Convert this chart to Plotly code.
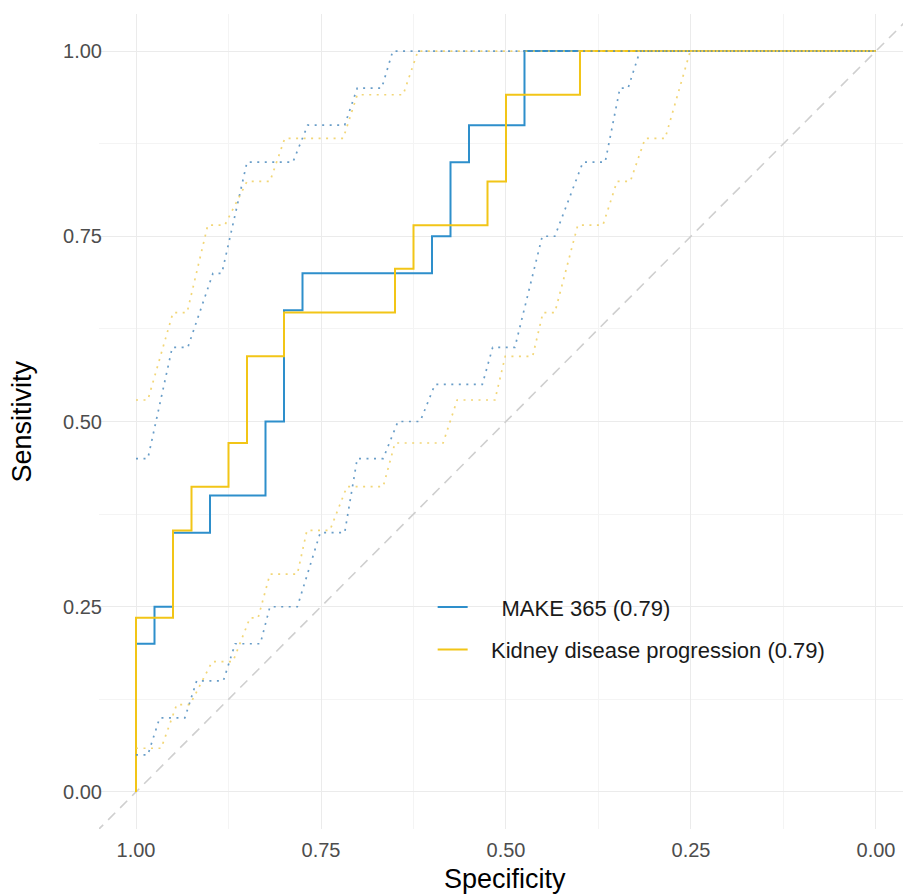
import plotly.graph_objects as go

# ---------------- data ----------------
# Main ROC curves (step vertices: specificity, sensitivity)
make_spec = [1.0, 1.0, 0.975, 0.95, 0.9, 0.825, 0.8, 0.775, 0.6, 0.575, 0.55, 0.475, 0.0]
make_sens = [0.0, 0.2, 0.25, 0.35, 0.4, 0.5, 0.65, 0.7, 0.75, 0.85, 0.9, 1.0, 1.0]

kid_spec = [1.0, 1.0, 0.95, 0.925, 0.875, 0.85, 0.8, 0.65, 0.625, 0.525, 0.5, 0.4, 0.0]
kid_sens = [0.0, 0.235, 0.353, 0.412, 0.471, 0.588, 0.647, 0.706, 0.765, 0.824, 0.941, 1.0, 1.0]

# Confidence bands (dotted)
make_hi_spec = [1.0, 0.984, 0.951, 0.930, 0.896, 0.884, 0.850, 0.788, 0.768, 0.718, 0.701, 0.668, 0.653, 0.0]
make_hi_sens = [0.45, 0.45, 0.60, 0.60, 0.70, 0.70, 0.85, 0.85, 0.90, 0.90, 0.95, 0.95, 1.0, 1.0]

make_lo_spec = [1.0, 0.984, 0.968, 0.934, 0.918, 0.882, 0.866, 0.832, 0.819, 0.782, 0.751, 0.718,
                0.701, 0.666, 0.646, 0.616, 0.596, 0.532, 0.518, 0.488, 0.451, 0.434, 0.396, 0.366,
                0.346, 0.335, 0.319, 0.0]
make_lo_sens = [0.05, 0.05, 0.10, 0.10, 0.15, 0.15, 0.20, 0.20, 0.25, 0.25, 0.35, 0.35,
                0.45, 0.45, 0.50, 0.50, 0.55, 0.55, 0.60, 0.60, 0.75, 0.75, 0.85, 0.85,
                0.95, 0.95, 1.0, 1.0]

kid_hi_spec = [1.0, 0.984, 0.950, 0.931, 0.903, 0.880, 0.850, 0.819, 0.799, 0.720, 0.701, 0.639, 0.619, 0.0]
kid_hi_sens = [0.529, 0.529, 0.647, 0.647, 0.765, 0.765, 0.824, 0.824, 0.882, 0.882, 0.941, 0.941, 1.0, 1.0]

kid_lo_spec = [1.0, 0.966, 0.945, 0.927, 0.897, 0.869, 0.846, 0.835, 0.819, 0.782, 0.769, 0.738,
               0.715, 0.666, 0.650, 0.585, 0.566, 0.515, 0.501, 0.464, 0.450, 0.434, 0.403, 0.369,
               0.350, 0.332, 0.312, 0.285, 0.251, 0.0]
kid_lo_sens = [0.059, 0.059, 0.118, 0.118, 0.176, 0.176, 0.235, 0.235, 0.294, 0.294, 0.353, 0.353,
               0.412, 0.412, 0.471, 0.471, 0.529, 0.529, 0.588, 0.588, 0.647, 0.647, 0.765, 0.765,
               0.824, 0.824, 0.882, 0.882, 1.0, 1.0]

# chance line (sensitivity = 1 - specificity)
diag_spec = [1.2, -0.2]
diag_sens = [1 - s for s in diag_spec]

tick_vals = [0.0, 0.25, 0.5, 0.75, 1.0]
tick_text = ["0.00", "0.25", "0.50", "0.75", "1.00"]
minor_vals = [0.125, 0.375, 0.625, 0.875]

series_names = ["MAKE 365 (0.79)", "Kidney disease progression (0.79)"]

# ---------------- style ----------------
BLUE = "#2E8FCB"
YELLOW = "#F2C517"
FONT = "Liberation Sans, Arial, sans-serif"
NB = "\u00a0"
THIN = "\u2009"

fig = go.Figure()

fig.add_trace(go.Scatter(x=diag_spec, y=diag_sens, mode="lines",
                         line=dict(color="#CFCFCF", width=1.6, dash="10px,7px"),
                         showlegend=False, hoverinfo="skip"))

fig.add_trace(go.Scatter(x=make_spec, y=make_sens, mode="lines",
                         name=NB * 4 + THIN + series_names[0],
                         line=dict(color=BLUE, width=2, shape="hv"), legendgroup="a"))
fig.add_trace(go.Scatter(x=kid_spec, y=kid_sens, mode="lines",
                         name=NB * 3 + series_names[1],
                         line=dict(color=YELLOW, width=2, shape="hv"), legendgroup="b"))

for xs, ys, col, op in [(make_hi_spec, make_hi_sens, "#4F8DBF", 0.85),
                        (make_lo_spec, make_lo_sens, "#4F8DBF", 0.85),
                        (kid_hi_spec, kid_hi_sens, "#F0CD55", 0.8),
                        (kid_lo_spec, kid_lo_sens, "#F0CD55", 0.8)]:
    fig.add_trace(go.Scatter(x=xs, y=ys, mode="lines", opacity=op,
                             line=dict(color=col, width=1.7, dash="2px,5.5px"),
                             showlegend=False, hoverinfo="skip"))

axis_common = dict(
    showline=False, zeroline=False, ticks="",
    showgrid=True, gridcolor="#EBEBEB", gridwidth=1,
    tickvals=tick_vals, ticktext=tick_text,
    tickfont=dict(family=FONT, size=20, color="#4D4D4D"),
    minor=dict(tickvals=minor_vals, showgrid=True, gridcolor="#F4F4F4", gridwidth=1),
)

fig.update_layout(
    width=903, height=896,
    margin=dict(l=99, r=0, t=14, b=67),
    plot_bgcolor="white", paper_bgcolor="white",
    xaxis=dict(range=[1.05, -0.0365], ticklabelstandoff=7, **axis_common),
    yaxis=dict(range=[-0.05, 1.05], ticklabelstandoff=-4, **axis_common),
    showlegend=True,
    legend=dict(x=0.415, y=0.298, xanchor="left", yanchor="top",
                bgcolor="rgba(0,0,0,0)", borderwidth=0,
                font=dict(family=FONT, size=22, color="#1A1A1A"),
                tracegroupgap=11, traceorder="grouped"),
    annotations=[
        dict(text="Specificity", xref="paper", yref="paper", x=0.505, y=-0.0613,
             xanchor="center", yanchor="middle", showarrow=False,
             font=dict(family=FONT, size=27, color="#000000")),
        dict(text="Sensitivity", xref="paper", yref="paper", x=-0.0958, y=0.5,
             xanchor="center", yanchor="middle", showarrow=False, textangle=-90,
             font=dict(family=FONT, size=27, color="#000000")),
    ],
)

fig.write_html("out.html", config={"displayModeBar": False},
               post_script="document.body.style.margin='0';document.body.style.overflow='hidden';")
